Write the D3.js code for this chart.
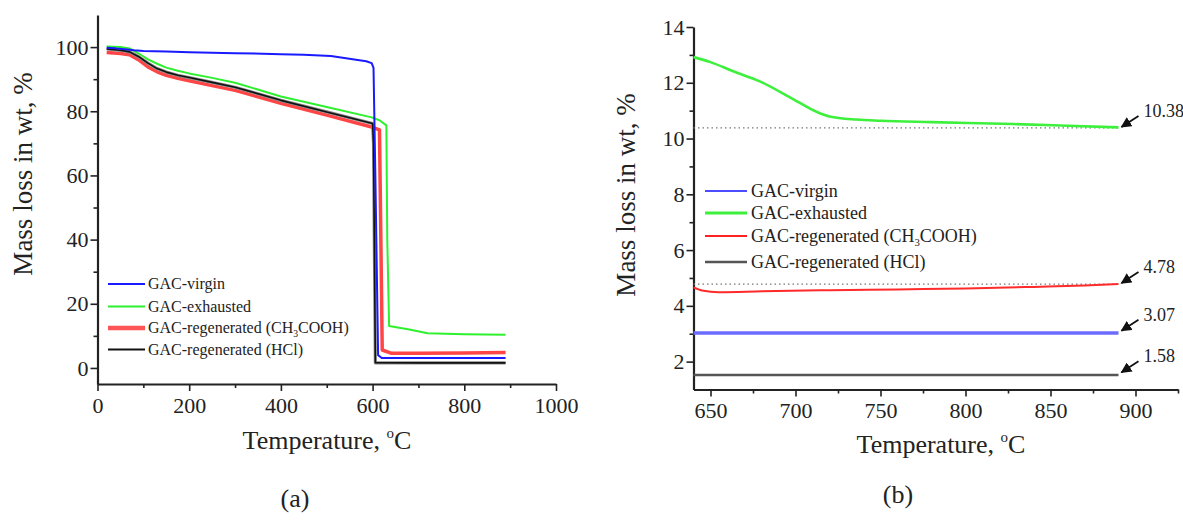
<!DOCTYPE html>
<html>
<head>
<meta charset="utf-8">
<script src="https://cdn.jsdelivr.net/npm/d3@7"></script>
<style>
  html, body { margin: 0; padding: 0; background: #fff; }
  svg { display: block; }
  text { font-family: "Liberation Serif", "Times New Roman", serif; fill: #222; }
  .tick text { font-family: "Liberation Serif", "Times New Roman", serif !important; }
</style>
</head>
<body>
<svg id="chart" width="1183" height="521"></svg>
<script>
// ---------- Panel (a) data: temperature (°C) and mass (%) ----------
const virginTempA = [20, 40, 60, 80, 100, 150, 200, 300, 400, 450, 509, 553, 586, 598, 602, 606, 612, 620, 700, 800, 890];
const virginMassA = [99.8, 99.6, 99.3, 99.0, 98.8, 98.6, 98.4, 98.1, 97.8, 97.6, 97.2, 96.3, 95.6, 95.0, 93.5, 60, 4, 3.1, 3.07, 3.07, 3.07];

const exhaustedTempA = [20, 50, 70, 90, 110, 130, 150, 175, 200, 250, 300, 400, 500, 598, 615, 630, 632, 636, 680, 720, 800, 890];
const exhaustedMassA = [100.2, 100.0, 99.6, 98.0, 96.2, 94.8, 93.6, 92.6, 91.8, 90.4, 88.9, 84.6, 81.3, 78.1, 77.2, 75.6, 40, 13.1, 12.0, 10.8, 10.5, 10.38];

const aceticTempA = [20, 50, 70, 90, 110, 130, 150, 175, 200, 250, 300, 400, 500, 600, 615, 618, 621, 640, 700, 800, 890];
const aceticMassA = [98.3, 98.0, 97.6, 96.0, 93.8, 92.3, 91.2, 90.3, 89.5, 88.0, 86.5, 82.5, 78.8, 75.0, 74.2, 40, 5.6, 4.6, 4.55, 4.65, 4.78];

const hclTempA = [20, 50, 70, 90, 110, 130, 150, 175, 200, 250, 300, 400, 500, 600, 602, 606, 700, 800, 890];
const hclMassA = [99.4, 99.0, 98.5, 97.0, 95.0, 93.3, 92.2, 91.2, 90.5, 89.0, 87.5, 83.4, 79.8, 76.2, 70, 1.6, 1.58, 1.58, 1.58];

// ---------- Panel (b) data ----------
const virginTempB = [640, 890];
const virginMassB = [3.03, 3.03];
const exhaustedTempB = [640, 650, 663, 679, 697, 713, 720, 736, 750, 780, 828, 860, 890];
const exhaustedMassB = [12.92, 12.74, 12.42, 12.05, 11.47, 10.94, 10.79, 10.68, 10.64, 10.59, 10.52, 10.46, 10.40];
const aceticTempB = [640, 645, 655, 680, 720, 760, 800, 840, 870, 890];
const aceticMassB = [4.66, 4.55, 4.49, 4.52, 4.56, 4.59, 4.62, 4.68, 4.73, 4.78];
const hclTempB = [640, 890];
const hclMassB = [1.52, 1.52];

const annotValues = [10.38, 4.78, 3.07, 1.58];
const annotLabels = ["10.38", "4.78", "3.07", "1.58"];
const dottedValues = [10.38, 4.78];
const annotTemp = 890;

// ---------- Ticks ----------
const xMajorA = [0, 200, 400, 600, 800, 1000];
const xMinorA = [100, 300, 500, 700, 900];
const yMajorA = [0, 20, 40, 60, 80, 100];
const yMinorA = [10, 30, 50, 70, 90];
const xMajorB = [650, 700, 750, 800, 850, 900];
const xMinorB = [675, 725, 775, 825, 875, 925];
const yMajorB = [2, 4, 6, 8, 10, 12, 14];
const yMinorB = [3, 5, 7, 9, 11, 13];

const legendNames = ["GAC-virgin", "GAC-exhausted", "GAC-regenerated (CH3COOH)", "GAC-regenerated (HCl)"];

// ---------- Drawing ----------
const svg = d3.select("#chart");
const zip = (t, m) => t.map((v, i) => ({ t: v, m: m[i] }));
const SERIF = '"Liberation Serif", "Times New Roman", serif';

const xA = d3.scaleLinear().domain([0, 1000]).range([97.5, 556]);
const yA = d3.scaleLinear().domain([-5, 110]).range([384, 15]);
const xB = d3.scaleLinear().domain([640, 925]).range([693.5, 1178]);
const yB = d3.scaleLinear().domain([1, 14]).range([389.5, 27]);

function drawAxes(x, y, xMaj, xMin, yMaj, yMin) {
  const g = svg.append("g");
  const fmt = d3.format("d");
  const axes = [];
  axes.push(g.append("g").attr("transform", `translate(0,${y.range()[0]})`)
    .call(d3.axisBottom(x).tickValues(xMaj).tickFormat(fmt).tickSize(7).tickPadding(6).tickSizeOuter(0)));
  g.append("g").attr("transform", `translate(0,${y.range()[0]})`)
    .call(d3.axisBottom(x).tickValues(xMin).tickSize(4).tickFormat("").tickSizeOuter(0))
    .select(".domain").remove();
  axes.push(g.append("g").attr("transform", `translate(${x.range()[0]},0)`)
    .call(d3.axisLeft(y).tickValues(yMaj).tickFormat(fmt).tickSize(7).tickPadding(2).tickSizeOuter(0)));
  g.append("g").attr("transform", `translate(${x.range()[0]},0)`)
    .call(d3.axisLeft(y).tickValues(yMin).tickSize(4).tickFormat("").tickSizeOuter(0))
    .select(".domain").remove();
  axes.forEach(a => a.attr("font-family", SERIF).attr("font-size", 22));
  g.selectAll(".domain").attr("stroke", "#222").attr("stroke-width", 2.2);
  g.selectAll(".tick line").attr("stroke", "#222").attr("stroke-width", 1.6);
  g.selectAll(".tick text").attr("font-family", SERIF).attr("font-size", 22).attr("fill", "#222");
}

function drawLine(x, y, data, color, width, smooth) {
  const line = d3.line().x(d => x(d.t)).y(d => y(d.m));
  if (smooth) line.curve(d3.curveMonotoneX);
  svg.append("path").datum(data).attr("d", line)
    .attr("fill", "none").attr("stroke", color).attr("stroke-width", width)
    .attr("stroke-linejoin", "round");
}

function legendText(sel, name) {
  if (name.includes("CH3COOH")) {
    sel.append("tspan").text("GAC-regenerated (CH");
    sel.append("tspan").text("3").attr("font-size", "0.6em").attr("dy", "0.35em");
    sel.append("tspan").text("COOH)").attr("dy", "-0.21em");
  } else {
    sel.text(name);
  }
}

function drawLegend(x0, x1, tx, rows, styles, fontSize) {
  legendNames.forEach((name, i) => {
    svg.append("line").attr("x1", x0).attr("x2", x1).attr("y1", rows[i]).attr("y2", rows[i])
      .attr("stroke", styles[i].c).attr("stroke-width", styles[i].w);
    const t = svg.append("text").attr("x", tx).attr("y", rows[i] + fontSize * 0.33)
      .style("font-size", fontSize + "px");
    legendText(t, name);
  });
}

function xTitle(cx, by) {
  const t = svg.append("text").attr("x", cx).attr("y", by).attr("text-anchor", "middle")
    .style("font-size", "26px");
  t.append("tspan").text("Temperature, ");
  t.append("tspan").text("o").attr("font-size", "15px").attr("dy", "-11");
  t.append("tspan").text("C").attr("dy", "11");
}
function yTitle(bx, cy) {
  svg.append("text").attr("transform", `translate(${bx},${cy}) rotate(-90)`)
    .attr("text-anchor", "middle").style("font-size", "27px").text("Mass loss in wt, %");
}

// ----- Panel (a) -----
drawAxes(xA, yA, xMajorA, xMinorA, yMajorA, yMinorA);
drawLine(xA, yA, zip(exhaustedTempA, exhaustedMassA), "#2ef02e", 2, false);
drawLine(xA, yA, zip(aceticTempA, aceticMassA), "#ff4545", 3.5, false);
drawLine(xA, yA, zip(hclTempA, hclMassA), "#8a8a8a", 3.2, false);
drawLine(xA, yA, zip(hclTempA, hclMassA), "#111", 1.6, false);
drawLine(xA, yA, zip(virginTempA, virginMassA), "#1a1aff", 2, false);

drawLegend(108, 145, 148, [284, 306.5, 328, 349.5], [
  { c: "#1a1aff", w: 2 }, { c: "#2ef02e", w: 2 }, { c: "#ff5555", w: 4.5 }, { c: "#111", w: 2.2 }
], 16);
xTitle(327, 449);
yTitle(32, 174);
svg.append("text").attr("x", 295).attr("y", 507).attr("text-anchor", "middle")
  .style("font-size", "26px").text("(a)");

// ----- Panel (b) -----
drawAxes(xB, yB, xMajorB, xMinorB, yMajorB, yMinorB);
dottedValues.forEach(v => {
  svg.append("line").attr("x1", xB(640)).attr("x2", xB(annotTemp))
    .attr("y1", yB(v)).attr("y2", yB(v))
    .attr("stroke", "#777").attr("stroke-width", 1.3).attr("stroke-dasharray", "1.5,3");
});
drawLine(xB, yB, zip(exhaustedTempB, exhaustedMassB), "#3cf03c", 2.6, true);
drawLine(xB, yB, zip(aceticTempB, aceticMassB), "#ff2a2a", 2, true);
drawLine(xB, yB, zip(virginTempB, virginMassB), "#6b6bff", 3.5, false);
drawLine(xB, yB, zip(hclTempB, hclMassB), "#555", 2.5, false);

const defs = svg.append("defs");
defs.append("marker").attr("id", "arr").attr("viewBox", "0 0 10 10").attr("refX", 9).attr("refY", 5)
  .attr("markerWidth", 6).attr("markerHeight", 6).attr("orient", "auto")
  .append("path").attr("d", "M0,0 L10,5 L0,10 z").attr("fill", "#111");

annotValues.forEach((v, i) => {
  const tx = xB(annotTemp) + 1, ty = yB(v);
  svg.append("line").attr("x1", tx + 19).attr("y1", ty - 12).attr("x2", tx + 2).attr("y2", ty - 1)
    .attr("stroke", "#111").attr("stroke-width", 1.8).attr("marker-end", "url(#arr)");
  svg.append("text").attr("x", tx + 24).attr("y", ty - 11)
    .style("font-size", "18px").text(annotLabels[i]);
});

drawLegend(705, 747, 751, [191, 213, 236, 262], [
  { c: "#1010ff", w: 1.6 }, { c: "#3cf03c", w: 3 }, { c: "#ff2020", w: 1.8 }, { c: "#555", w: 2.5 }
], 18);
xTitle(941, 453);
yTitle(635, 195);
svg.append("text").attr("x", 898).attr("y", 503).attr("text-anchor", "middle")
  .style("font-size", "26px").text("(b)");
</script>
</body>
</html>
